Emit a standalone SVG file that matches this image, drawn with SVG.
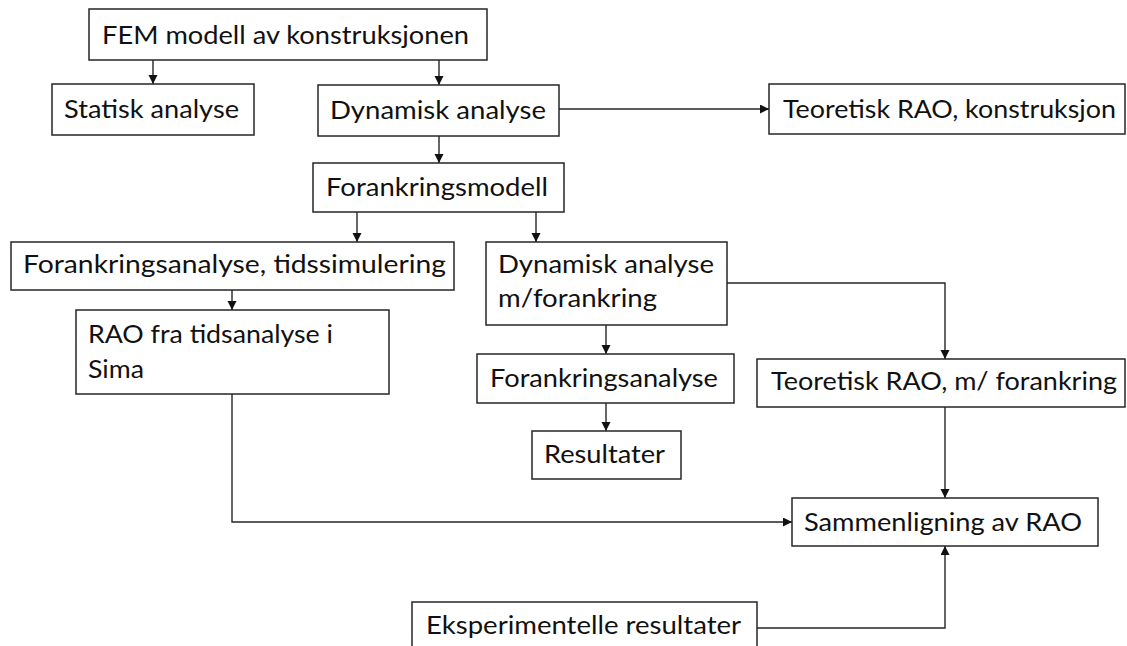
<svg xmlns="http://www.w3.org/2000/svg" width="1127" height="646" viewBox="0 0 1127 646">
<style>
.box{fill:#fff;stroke:#262626;stroke-width:1.5}
.t{font-family:Lato,"Liberation Sans",Arial,sans-serif;font-size:24.5px;fill:#111}
.c{fill:none;stroke:#262626;stroke-width:1.4}
</style>
<defs>
<marker id="ah" markerUnits="userSpaceOnUse" markerWidth="10" markerHeight="10" refX="9" refY="4.5" orient="auto">
<path d="M0,0 L9,4.5 L0,9 z" fill="#111"/>
</marker>
</defs>
<rect width="1127" height="646" fill="#fff"/>
<g id="connectors">
<path class="c" d="M153,60 V84" marker-end="url(#ah)"/>
<path class="c" d="M439,60 V85" marker-end="url(#ah)"/>
<path class="c" d="M559,109 H769" marker-end="url(#ah)"/>
<path class="c" d="M439,136 V163" marker-end="url(#ah)"/>
<path class="c" d="M357,212 V242" marker-end="url(#ah)"/>
<path class="c" d="M536,212 V242" marker-end="url(#ah)"/>
<path class="c" d="M232,290 V310" marker-end="url(#ah)"/>
<path class="c" d="M606,325 V354" marker-end="url(#ah)"/>
<path class="c" d="M606,403 V431" marker-end="url(#ah)"/>
<path class="c" d="M727,283 H945 V359" marker-end="url(#ah)"/>
<path class="c" d="M232,394 V522 H792" marker-end="url(#ah)"/>
<path class="c" d="M945,407 V498" marker-end="url(#ah)"/>
<path class="c" d="M757,628 H945 V546" marker-end="url(#ah)"/>
</g>
<g id="n-fem"><rect class="box" x="89" y="9" width="398" height="51"/><text class="t" x="102" y="44" textLength="367" lengthAdjust="spacingAndGlyphs">FEM modell av konstruksjonen</text></g>
<g id="n-statisk"><rect class="box" x="52" y="84" width="202" height="51"/><text class="t" x="64" y="118" textLength="175" lengthAdjust="spacingAndGlyphs">Statisk analyse</text></g>
<g id="n-dynamisk"><rect class="box" x="318" y="85" width="241" height="51"/><text class="t" x="330" y="119" textLength="216" lengthAdjust="spacingAndGlyphs">Dynamisk analyse</text></g>
<g id="n-teo-konstr"><rect class="box" x="769" y="84" width="356" height="50"/><text class="t" x="783" y="118" textLength="333" lengthAdjust="spacingAndGlyphs">Teoretisk RAO, konstruksjon</text></g>
<g id="n-forankringsmodell"><rect class="box" x="313" y="163" width="251" height="49"/><text class="t" x="326" y="196" textLength="222" lengthAdjust="spacingAndGlyphs">Forankringsmodell</text></g>
<g id="n-forank-tids"><rect class="box" x="11" y="242" width="443" height="48"/><text class="t" x="23" y="273" textLength="423" lengthAdjust="spacingAndGlyphs">Forankringsanalyse, tidssimulering</text></g>
<g id="n-dyn-mf"><rect class="box" x="486" y="242" width="241" height="83"/><text class="t" x="498" y="273" textLength="216" lengthAdjust="spacingAndGlyphs">Dynamisk analyse</text><text class="t" x="498" y="307" textLength="159" lengthAdjust="spacingAndGlyphs">m/forankring</text></g>
<g id="n-rao-sima"><rect class="box" x="76" y="310" width="313" height="84"/><text class="t" x="88" y="343" textLength="245" lengthAdjust="spacingAndGlyphs">RAO fra tidsanalyse i</text><text class="t" x="88" y="378" textLength="56" lengthAdjust="spacingAndGlyphs">Sima</text></g>
<g id="n-forankringsanalyse"><rect class="box" x="477" y="354" width="257" height="49"/><text class="t" x="490" y="387" textLength="228" lengthAdjust="spacingAndGlyphs">Forankringsanalyse</text></g>
<g id="n-resultater"><rect class="box" x="532" y="431" width="149" height="48"/><text class="t" x="544" y="463" textLength="121" lengthAdjust="spacingAndGlyphs">Resultater</text></g>
<g id="n-teo-mf"><rect class="box" x="757" y="359" width="368" height="48"/><text class="t" x="771" y="390" textLength="346" lengthAdjust="spacingAndGlyphs">Teoretisk RAO, m/ forankring</text></g>
<g id="n-sammenligning"><rect class="box" x="792" y="498" width="306" height="48"/><text class="t" x="804" y="531" textLength="278" lengthAdjust="spacingAndGlyphs">Sammenligning av RAO</text></g>
<g id="n-eksp"><rect class="box" x="412" y="602" width="345" height="60"/><text class="t" x="426" y="634" textLength="315" lengthAdjust="spacingAndGlyphs">Eksperimentelle resultater</text></g>
</svg>
